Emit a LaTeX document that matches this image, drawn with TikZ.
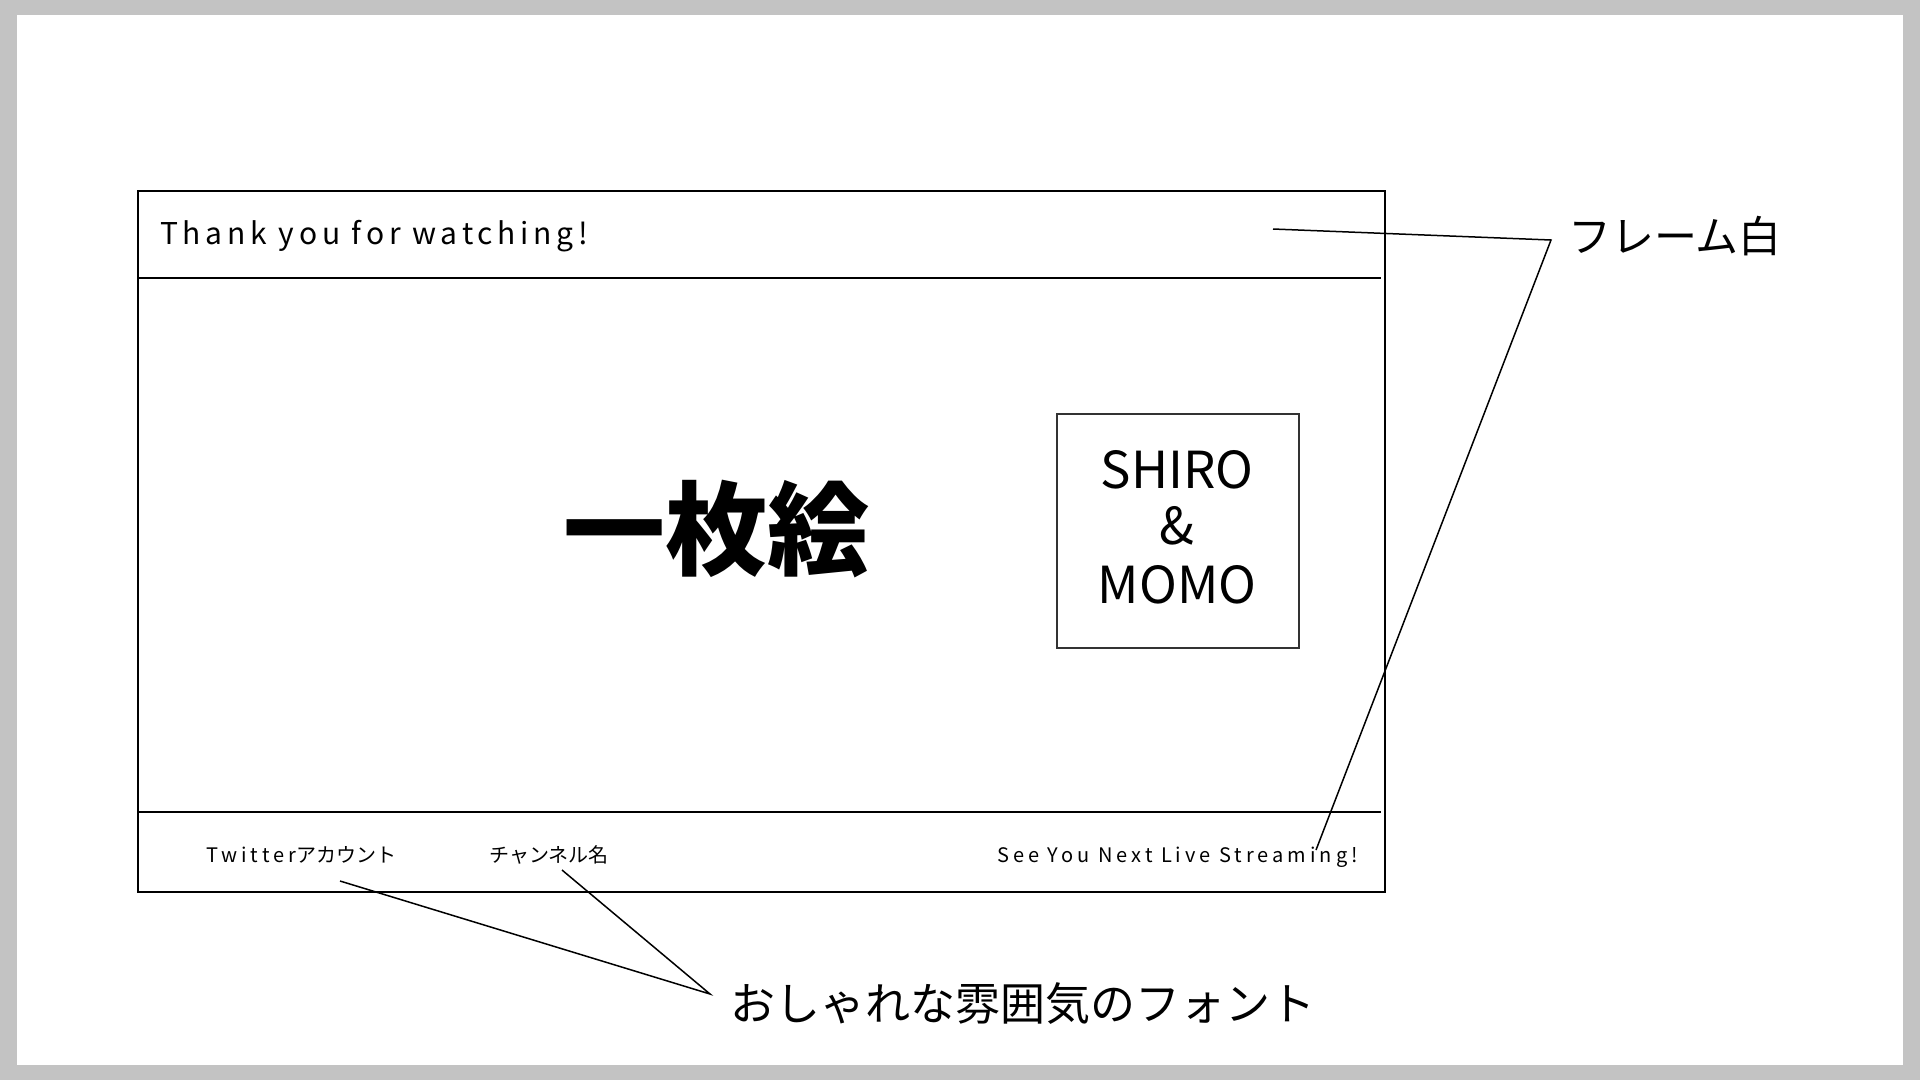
\documentclass[tikz,border=0pt]{standalone}
\usepackage{fontspec}
\setmainfont{Noto Sans CJK JP}
\newfontfamily\lathead[LetterSpace=16]{Noto Sans CJK JP}
\newfontfamily\latfoot[LetterSpace=20]{Noto Sans CJK JP}
\definecolor{bordergray}{HTML}{C3C3C3}
\begin{document}
\begin{tikzpicture}[x=1pt,y=-1pt,
  framebox/.style={draw=black, line width=2.4pt, inner sep=0pt, anchor=north west},
  sepline/.style={draw=black, line width=2pt},
  leader/.style={draw=black, line width=1.5pt},
  logobox/.style={draw=black!80, line width=1.5pt, inner sep=0pt, anchor=north west},
  txt/.style={inner sep=0pt, text=black}]
\useasboundingbox (0,0) rectangle (1920,1080);
\fill[bordergray] (0,0) rectangle (1920,1080);
\fill[white] (17,15) rectangle (1903,1065);
% main frame
\node[framebox, minimum width=1247pt, minimum height=701pt] (frame) at (137,190) {};
\coordinate (hl) at (137,278);
\coordinate (hr) at (1381,278);
\coordinate (fl) at (137,812);
\coordinate (fr) at (1381,812);
\draw[sepline] (hl) -- (hr);
\draw[sepline] (fl) -- (fr);
% logo box
\node[logobox, minimum width=242pt, minimum height=234pt] (logo) at (1056,413) {};
% texts
\node[txt, anchor=base west, font=\fontsize{30}{30}\selectfont\lathead] (thanks) at (160,244) {Thank you for watching!};
\node[txt, anchor=base, font=\fontsize{102}{102}\selectfont\bfseries] (main) at (716,567) {一枚絵};
\node[txt, anchor=base, font=\fontsize{51}{51}\selectfont] (shiro) at (1177,488) {SHIRO};
\node[txt, anchor=base, font=\fontsize{51}{51}\selectfont] (amp) at (1177,544) {\&};
\node[txt, anchor=base, font=\fontsize{51}{51}\selectfont] (momo) at (1177,603) {MOMO};
\node[txt, anchor=base west, font=\fontsize{20}{20}\selectfont] (tw) at (206,862) {{\latfoot Twitter}アカウント};
\node[txt, anchor=base west, font=\fontsize{20}{20}\selectfont] (ch) at (489,862) {チャンネル名};
\node[txt, anchor=base east, font=\fontsize{20}{20}\selectfont\latfoot] (see) at (1358,862) {See You Next Live Streaming!};
\node[txt, anchor=west, font=\fontsize{43}{43}\selectfont] (frlabel) at (1568,236) {フレーム白};
\node[txt, anchor=west, font=\fontsize{45}{45}\selectfont] (fontlabel) at (730,1004) {おしゃれな雰囲気のフォント};
% leaders
\coordinate (c1) at (1273,229);
\coordinate (c2) at (1551,240);
\coordinate (c3) at (1316,850);
\draw[leader] (c1) -- (c2) -- (c3);
\coordinate (d1) at (340,881);
\coordinate (d2) at (562,870);
\coordinate (d0) at (710,994);
\draw[leader] (d1) -- (d0) -- (d2);
\end{tikzpicture}
\end{document}
